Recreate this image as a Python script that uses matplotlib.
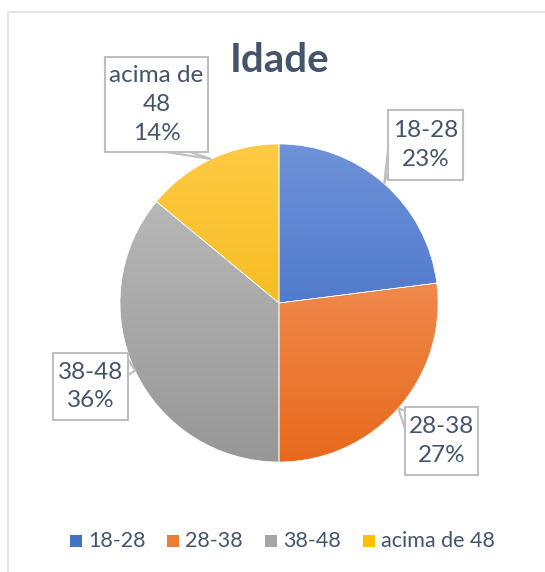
import numpy as np
import matplotlib.pyplot as plt
from matplotlib.colors import LinearSegmentedColormap
from matplotlib.patches import Rectangle, Polygon

# ---------- Data ----------
categories = ["18-28", "28-38", "38-48", "acima de 48"]
values = [23, 27, 36, 14]
box_labels = ["18-28\n23%", "28-38\n27%", "38-48\n36%", "acima de\n48\n14%"]

# gradient colours (top, bottom) for each slice
grad_colors = [("#6F92D8", "#3264C0"),
               ("#F5A271", "#E8691C"),
               ("#BEBEBE", "#979797"),
               ("#FFCA45", "#EDB000")]
legend_colors = ["#4472C4", "#ED7D31", "#A5A5A5", "#FFC000"]

text_color = "#44546A"
W, H = 545, 572
plt.rcParams['font.family'] = ['Lato', 'DejaVu Sans']

fig = plt.figure(figsize=(W / 100, H / 100), dpi=100)
ax = fig.add_axes([0, 0, 1, 1])

cx, cy, r = 279, H - 303, 159
wedges, _ = ax.pie(values, startangle=90, counterclock=False,
                   center=(cx, cy), radius=r, frame=True)
ax.set_xlim(0, W)
ax.set_ylim(0, H)
ax.set_aspect('equal')
ax.axis('off')

# gradient fill for each wedge
for w, (c_top, c_bot) in zip(wedges, grad_colors):
    w.set_facecolor("none")
    w.set_edgecolor("white")
    w.set_linewidth(0.5)
    cmap = LinearSegmentedColormap.from_list("g", [c_bot, c_top])
    grad = np.linspace(0, 1, 256).reshape(-1, 1)
    im = ax.imshow(grad, cmap=cmap, origin="lower", aspect="auto",
                   extent=(cx - r, cx + r, cy - r, cy + r), zorder=1)
    im.set_clip_path(w)
    w.set_zorder(2)

# ---------- Callout labels ----------
# box (x0, y0_top, x1, y1_bottom) in pixel coords from top
boxes = {
    "18-28": (388, 110, 463, 180),
    "28-38": (405, 407, 478, 475),
    "38-48": (53, 353, 128, 420),
    "acima de 48": (105, 57, 208, 152),
}
total = sum(values)
start = 90.0
for cat, v, lab in zip(categories, values, box_labels):
    sweep = v / total * 360
    mid = np.deg2rad(start - sweep / 2)
    start -= sweep
    px, py = cx + r * np.cos(mid), cy + r * np.sin(mid)
    x0, y0, x1, y1 = boxes[cat]
    ax.add_patch(Rectangle((x0, H - y1), x1 - x0, y1 - y0, facecolor="white",
                           edgecolor="#BFBFBF", linewidth=1.5, zorder=4))
    bx, by = (x0 + x1) / 2, H - (y0 + y1) / 2
    # pointer from the box edge toward the slice
    if cat == "18-28":
        pts = [(x0, H - y1 + 8), (x0, H - y1 + 30), (px, py)]
    elif cat == "28-38":
        pts = [(x0, H - y0 - 4), (x0, H - y0 - 22), (px, py)]
    elif cat == "38-48":
        pts = [(x1, H - y0 - 6), (x1, H - y0 - 22), (px, py)]
    else:
        pts = [(x1 - 42, H - y1), (x1 - 18, H - y1), (px, py)]
    ax.add_patch(Polygon(pts, closed=True, facecolor="white",
                         edgecolor="#BFBFBF", linewidth=1.5, zorder=3))
    ax.text(bx, by, lab, ha="center", va="center", fontsize=17.5,
            color=text_color, linespacing=1.45, zorder=5)

# ---------- Title ----------
ax.text(280, H - 60, "Idade", ha="center", va="center", fontsize=29,
        fontweight="bold", color=text_color)

# ---------- Legend ----------
leg_x = [70, 167, 265, 363]
for x, cat, col in zip(leg_x, categories, legend_colors):
    ax.add_patch(Rectangle((x, H - 547), 12, 12, facecolor=col, edgecolor="none"))
    ax.text(x + 18, H - 541, cat, ha="left", va="center", fontsize=15.5,
            color=text_color)

# chart frame (left and top edges visible)
ax.plot([8, 8], [0, H - 12], color="#E1E4E9", lw=1.5)
ax.plot([8, W], [H - 12, H - 12], color="#E1E4E9", lw=1.5)

fig.savefig("out.png", dpi=100)
